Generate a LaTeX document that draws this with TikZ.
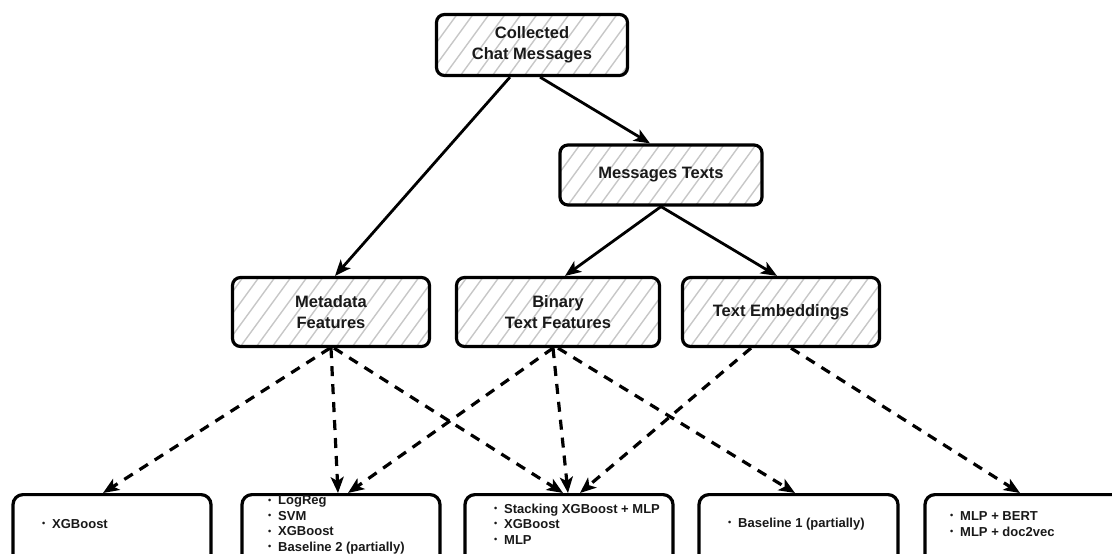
\documentclass[tikz,border=0pt]{standalone}
\usepackage{fontspec}
\usepackage{graphicx}
\setmainfont{Liberation Sans}
\usetikzlibrary{arrows.meta}
\newcommand\bul{\makebox[10pt][l]{\raisebox{0.25ex}{\scalebox{0.7}{•}}}}
\begin{document}
\begin{tikzpicture}[x=1pt,y=-1pt,
 hatchline/.style={draw=black!22, line width=1.4pt},
 hatchbox/.style={draw=black, line width=3.2pt, rounded corners=8pt,
   path picture={\foreach \k in {-120,-104,...,240}{\draw[hatchline] ([xshift=\k pt]path picture bounding box.south west) -- ++(70,-96);}},
   align=center, font=\fontsize{16.5}{21}\selectfont\bfseries, inner sep=0pt, text=black!90},
 resbox/.style={draw=black, line width=3.2pt, rounded corners=10pt, minimum height=80pt, anchor=north, inner sep=0pt},
 restext/.style={anchor=west, align=left, font=\fontsize{13}{15.5}\selectfont\bfseries, inner sep=0pt, text=black!90},
 solidarrow/.style={line width=2.8pt, -{Stealth[length=16pt,width=13pt,inset=4pt]}},
 dasharrow/.style={line width=3.2pt, dash pattern=on 10pt off 8pt, -{Stealth[length=16pt,width=13pt,inset=4pt]}},
]
\useasboundingbox (0,0) rectangle (1112,554);
\clip (0,0) rectangle (1112,554);

\node[hatchbox, minimum width=191pt, minimum height=61pt] (col) at (532,45) {Collected\\Chat Messages};
\node[hatchbox, minimum width=202pt, minimum height=60pt] (msg) at (661,175) {Messages Texts};
\node[hatchbox, minimum width=197pt, minimum height=69pt] (meta) at (331,312) {Metadata\\Features};
\node[hatchbox, minimum width=203pt, minimum height=69pt] (bin) at (558,312) {Binary\\Text Features};
\node[hatchbox, minimum width=197pt, minimum height=69pt] (emb) at (781,312) {Text Embeddings};

\node[resbox, minimum width=198pt] (r1) at (112,493) {};
\node[resbox, minimum width=198pt] (r2) at (341,493) {};
\node[resbox, minimum width=208pt] (r3) at (569,493) {};
\node[resbox, minimum width=199pt] (r4) at (798.5,493) {};
\node[resbox, minimum width=198pt] (r5) at (1024,493) {};

\node[restext] (t1) at (42,524) {\bul XGBoost};
\node[restext] (t2) at (268,525) {\bul LogReg\\\bul SVM\\\bul XGBoost\\\bul Baseline 2 (partially)};
\node[restext] (t3) at (494,524) {\bul Stacking XGBoost + MLP\\\bul XGBoost\\\bul MLP};
\node[restext] (t4) at (728,524) {\bul Baseline 1 (partially)};
\node[restext] (t5) at (950,524) {\bul MLP + BERT\\\bul MLP + doc2vec};

\draw[solidarrow] ([xshift=-22pt]col.south) -- ([xshift=4pt]meta.north);
\draw[solidarrow] ([xshift=8pt]col.south) -- ([xshift=-11pt]msg.north);
\draw[solidarrow] (msg.south) -- ([xshift=7pt]bin.north);
\draw[solidarrow] (msg.south) -- ([xshift=-4pt]emb.north);

\draw[dasharrow] ([xshift=-1pt]meta.south) -- ([xshift=-9pt]r1.north);
\draw[dasharrow] (meta.south) -- ([xshift=-3pt]r2.north);
\draw[dasharrow] ([xshift=3pt]meta.south) -- ([xshift=-6pt]r3.north);
\draw[dasharrow] ([xshift=-5pt]bin.south) -- ([xshift=7pt]r2.north);
\draw[dasharrow] ([xshift=-5pt]bin.south) -- ([xshift=-1pt]r3.north);
\draw[dasharrow] (bin.south) -- ([xshift=-3.5pt]r4.north);
\draw[dasharrow] ([xshift=-30pt]emb.south) -- ([xshift=11pt]r3.north);
\draw[dasharrow] ([xshift=10pt]emb.south) -- ([xshift=-4pt]r5.north);
\end{tikzpicture}
\end{document}
